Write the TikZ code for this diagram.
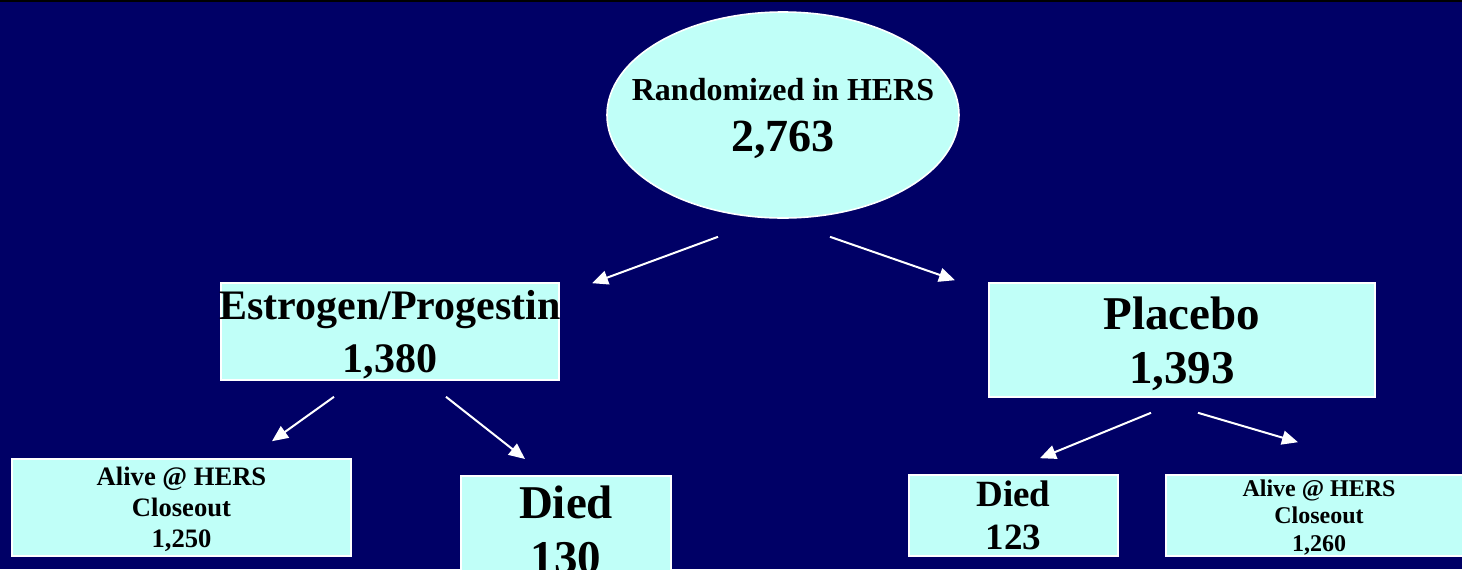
\documentclass[tikz,border=0pt]{standalone}
\usepackage{fontspec}
\setmainfont{Liberation Serif}
\usetikzlibrary{shapes.geometric, arrows.meta}
\definecolor{navy}{RGB}{0,0,102}
\definecolor{paleaqua}{RGB}{192,255,248}
\newcommand{\sz}[2]{\bfseries\fontsize{#1}{#2}\selectfont}
\tikzset{
    box/.style = {draw=white, line width=0.8pt, fill=paleaqua, text=black, align=center, inner sep=0pt, text depth=0pt},
    flow/.style = {draw=white, line width=1pt, -{Triangle[length=8pt, width=7pt]}},
}

\begin{document}
\begin{tikzpicture}[x=0.5pt, y=-0.5pt]
                \fill[navy] (0,0) rectangle (1462,569);
                \clip (0,0) rectangle (1462,569);
                \draw[black, line width=1.5pt] (0,0) -- (1462,0);

                \node[box, ellipse, inner xsep=-30pt, minimum width=176pt, minimum height=103pt, font=\sz{23}{25.5}] (root) at (783,115)
                    {{\sz{16}{25.5}Randomized in HERS}\\2,763};
                \node[box, minimum width=169pt, minimum height=48.5pt, font=\sz{21}{26.5}] (ep) at (390,331.5)
                    {\makebox[0pt]{Estrogen/Progestin}\\1,380};
                \node[box, minimum width=193pt, minimum height=57pt, font=\sz{23.5}{27}] (pl) at (1182,340)
                    {Placebo\\1,393};
                \node[box, minimum width=169.5pt, minimum height=48.5pt, font=\sz{13.3}{15.5}] (epalive) at (181.5,507.5)
                    {Alive @ HERS\\Closeout\\1,250};
                \node[box, minimum width=105pt, inner ysep=5pt, anchor=north, font=\sz{23.5}{27.5}] (epdied) at (566,475)
                    {Died\\130};
                \node[box, minimum width=104.5pt, minimum height=40.5pt, font=\sz{18.5}{21.5}] (pldied) at (1013.5,515.5)
                    {Died\\123};
                \node[box, minimum width=153pt, minimum height=40.5pt, font=\sz{12}{13.75}] (plalive) at (1319,515.5)
                    {Alive @ HERS\\Closeout\\1,260};

                \draw[flow] ([shift={(-65,18)}]root.south) -- ([shift={(202,1)}]ep.north);
                \draw[flow] ([shift={(47,18)}]root.south) -- ([shift={(-227,-2)}]pl.north);
                \draw[flow] ([shift={(-56,16)}]ep.south) -- ([shift={(90.5,-17)}]epalive.north);
                \draw[flow] ([shift={(56,16)}]ep.south) -- ([shift={(-41,-16)}]epdied.north);
                \draw[flow] ([shift={(-31,15)}]pl.south) -- ([shift={(26.5,-16)}]pldied.north);
                \draw[flow] ([shift={(16,15)}]pl.south) -- ([shift={(-21,-32)}]plalive.north);
\end{tikzpicture}
\end{document}
